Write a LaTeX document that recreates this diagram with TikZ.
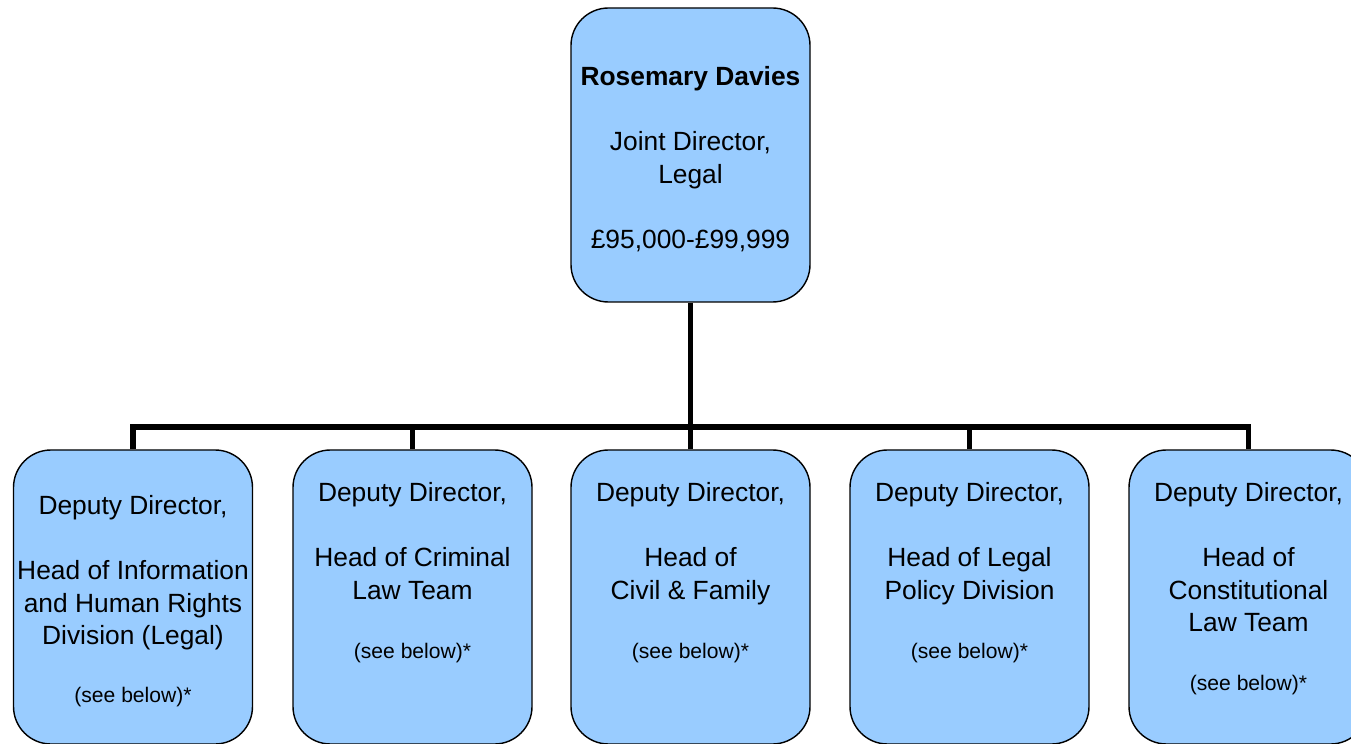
\documentclass[tikz,border=0pt]{standalone}
\usepackage{fontspec}
\setmainfont{Liberation Sans}
\definecolor{boxblue}{HTML}{99CCFF}
\newcommand{\seebelow}{{\fontsize{12}{14}\selectfont (see below)*}}
\begin{document}
\begin{tikzpicture}[
	post/.style={draw=black, line width=0.8pt, fill=boxblue, rounded corners=0.75cm,
		minimum width=4.78cm, minimum height=5.88cm, inner sep=0pt},
	txt/.style={anchor=north, align=center, inner sep=0pt,
		font=\fontsize{15}{18.5}\selectfont},
	conn/.style={line width=3.2pt}]
	\useasboundingbox (0,0) rectangle (27.02,14.86);
	\node[post] at (13.81,11.76) (jd) {};
	\node[post] at (2.66,2.92) (dd1) {};
	\node[post] at (8.25,2.92) (dd2) {};
	\node[post] at (13.81,2.92) (dd3) {};
	\node[post] at (19.39,2.92) (dd4) {};
	\node[post] at (24.97,2.92) (dd5) {};
	\coordinate (bar) at (13.81,6.32);
	\draw[conn] (jd.south) -- (bar);
	\draw[conn] (dd1.north) |- (bar) -| (dd5.north);
	\draw[conn] (dd2.north) -- (dd2.north |- bar);
	\draw[conn] (dd3.north) -- (dd3.north |- bar);
	\draw[conn] (dd4.north) -- (dd4.north |- bar);
	\node[txt] at ([yshift=-1.18cm]jd.north) (jdtext)
		{\textbf{Rosemary Davies}\\[18.5pt] Joint Director,\\ Legal\\[18.5pt] £95,000-£99,999};
	\node[txt] at ([yshift=-0.92cm]dd1.north) (dd1text)
		{Deputy Director,\\[18.5pt] Head of Information\\ and Human Rights\\ Division (Legal)\\[14.5pt] \seebelow};
	\node[txt] at ([yshift=-0.66cm]dd2.north) (dd2text)
		{Deputy Director,\\[18.5pt] Head of Criminal\\ Law Team\\[15pt] \seebelow};
	\node[txt] at ([yshift=-0.66cm]dd3.north) (dd3text)
		{Deputy Director,\\[18.5pt] Head of\\ Civil \& Family\\[15pt] \seebelow};
	\node[txt] at ([yshift=-0.66cm]dd4.north) (dd4text)
		{Deputy Director,\\[18.5pt] Head of Legal\\ Policy Division\\[15pt] \seebelow};
	\node[txt] at ([yshift=-0.66cm]dd5.north) (dd5text)
		{Deputy Director,\\[18.5pt] Head of\\ Constitutional\\ Law Team\\[15pt] \seebelow};
\end{tikzpicture}
\end{document}
